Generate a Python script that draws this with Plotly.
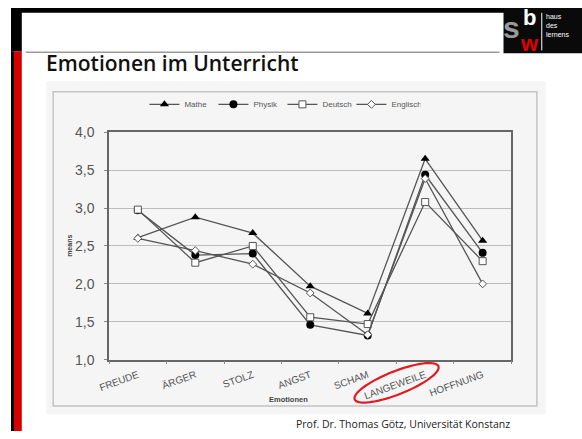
import math
import plotly.graph_objects as go

categories = ["FREUDE", "ÄRGER", "STOLZ", "ANGST", "SCHAM", "LANGEWEILE", "HOFFNUNG"]
mathe = [2.61, 2.88, 2.67, 1.97, 1.61, 3.65, 2.57]
physik = [2.97, 2.38, 2.40, 1.46, 1.32, 3.44, 2.41]
deutsch = [2.98, 2.28, 2.50, 1.56, 1.47, 3.08, 2.30]
englisch = [2.60, 2.44, 2.26, 1.88, 1.33, 3.39, 2.00]
y_ticks = [1.0, 1.5, 2.0, 2.5, 3.0, 3.5, 4.0]

W, H = 582, 439
def px(x):
    return x / W
def py(y):
    return 1 - y / H

LINE = "#555555"
fig = go.Figure()
series = [
    ("Mathe", mathe, dict(symbol="triangle-up", size=8, color="black")),
    ("Physik", physik, dict(symbol="circle", size=8, color="black")),
    ("Deutsch", deutsch, dict(symbol="square", size=7, color="white", line=dict(color="#555", width=1))),
    ("Englisch", englisch, dict(symbol="diamond", size=6, color="white", line=dict(color="#555", width=1))),
]
for name, vals, mk in series:
    fig.add_trace(go.Scatter(x=categories, y=vals, name=name, mode="lines+markers",
                             line=dict(color=LINE, width=1.3), marker=mk))

shapes = []
# chart image background and frame
shapes.append(dict(type="rect", xref="paper", yref="paper", x0=px(36), x1=px(545), y0=py(422), y1=py(76),
                   fillcolor="#f5f5f5", line=dict(width=0), layer="below"))
shapes.append(dict(type="rect", xref="paper", yref="paper", x0=px(43), x1=px(536), y0=py(413), y1=py(87),
                   fillcolor="rgba(0,0,0,0)", line=dict(color="#c4c4c4", width=1.5), layer="below"))
# slide decorations
shapes.append(dict(type="rect", xref="paper", yref="paper", x0=0, x1=1, y0=py(5), y1=1,
                   fillcolor="black", line=dict(width=0)))
shapes.append(dict(type="rect", xref="paper", yref="paper", x0=0, x1=px(11), y0=py(45), y1=1,
                   fillcolor="black", line=dict(width=0)))
shapes.append(dict(type="rect", xref="paper", yref="paper", x0=0, x1=px(3), y0=0, y1=py(45),
                   fillcolor="black", line=dict(width=0)))
shapes.append(dict(type="rect", xref="paper", yref="paper", x0=px(3), x1=px(11), y0=0, y1=py(45),
                   fillcolor="#d40000", line=dict(width=0)))
shapes.append(dict(type="line", xref="paper", yref="paper", x0=px(15), x1=px(498), y0=py(46), y1=py(46),
                   line=dict(color="#9a9a9a", width=1.5)))
# logo
shapes.append(dict(type="rect", xref="paper", yref="paper", x0=px(502), x1=1, y0=py(47), y1=1,
                   fillcolor="#0a0a0a", line=dict(width=0)))
shapes.append(dict(type="line", xref="paper", yref="paper", x0=px(541), x1=px(541), y0=py(44), y1=py(5),
                   line=dict(color="white", width=1)))
# red ellipse around LANGEWEILE
cx, cy, a, b, ang = 393, 389, 46, 12, math.radians(-22)
pts = []
for i in range(73):
    t = 2 * math.pi * i / 72
    ex = a * math.cos(t)
    ey = b * math.sin(t)
    xx = cx + ex * math.cos(ang) - ey * math.sin(ang)
    yy = cy + ex * math.sin(ang) + ey * math.cos(ang)
    pts.append(f"{px(xx):.5f},{py(yy):.5f}")
shapes.append(dict(type="path", xref="paper", yref="paper", path="M" + " L".join(pts) + " Z",
                   line=dict(color="#e01b22", width=2.2)))

def ann(text, x, y, size, color, family="Arial", xanchor="center", yanchor="middle", **kw):
    return dict(text=text, x=px(x), y=py(y), xref="paper", yref="paper", xanchor=xanchor,
                yanchor=yanchor, showarrow=False, font=dict(family=family, size=size, color=color,
                                                            weight=kw.pop("weight", "normal")), **kw)

annotations = [
    ann("Emotionen im Unterricht", 34, 57, 21, "#111", family="Open Sans", xanchor="left", weight=600),
    ann("Prof. Dr. Thomas Götz, Universität Konstanz", 511, 432, 10.5, "#222", family="Open Sans",
        xanchor="right"),
    ann("means", 60, 247, 7, "#444", weight="bold", textangle=-90),
    ann("Emotionen", 283, 406, 7.5, "#444", weight="bold"),
    ann("s", 510, 20, 30, "#9a9a9a", family="Liberation Sans", weight="bold", borderpad=0),
    ann("b", 528, 10, 22, "white", family="Liberation Sans", weight="bold", borderpad=0),
    ann("w", 528, 37, 22, "#e00000", family="Liberation Sans", weight="bold", borderpad=0),
    ann("haus<br>des<br>lernens", 543, 3, 7, "white", family="Liberation Sans", xanchor="left",
        yanchor="top", align="left"),
]

fig.update_layout(
    width=W, height=H,
    margin=dict(l=0, r=0, t=0, b=0),
    paper_bgcolor="white",
    plot_bgcolor="#f5f5f5",
    separators=",.",
    showlegend=True,
    legend=dict(orientation="h", x=px(136), y=py(100), xanchor="left", yanchor="middle",
                font=dict(family="Arial", size=8, color="#555"), bgcolor="rgba(0,0,0,0)",
                itemwidth=30, entrywidth=24, entrywidthmode="pixels"),
    shapes=shapes,
    annotations=annotations,
    xaxis=dict(domain=[px(100), px(510)], type="category", categoryorder="array", categoryarray=categories,
               tickangle=-20, tickfont=dict(family="Arial", size=10, color="#555"),
               showline=True, linecolor="#666", linewidth=1.5, mirror=True,
               ticks="outside", tickson="boundaries", ticklen=3, tickcolor="#888",
               ticklabelstandoff=4,
               showgrid=False, zeroline=False, range=[-0.5, 6.5]),
    yaxis=dict(domain=[py(365), py(129)], range=[1, 4], tickvals=y_ticks, tickformat=".1f",
               tickfont=dict(family="Arial", size=14, color="#555"),
               showline=True, linecolor="#666", linewidth=1.5, mirror=True,
               ticks="outside", ticklen=3, tickcolor="#888", ticklabelstandoff=7,
               showgrid=True, gridcolor="#bdbdbd", gridwidth=1, zeroline=False),
)
fig.write_html("out.html", config={"displayModeBar": False},
               post_script="document.body.style.margin='0';")
